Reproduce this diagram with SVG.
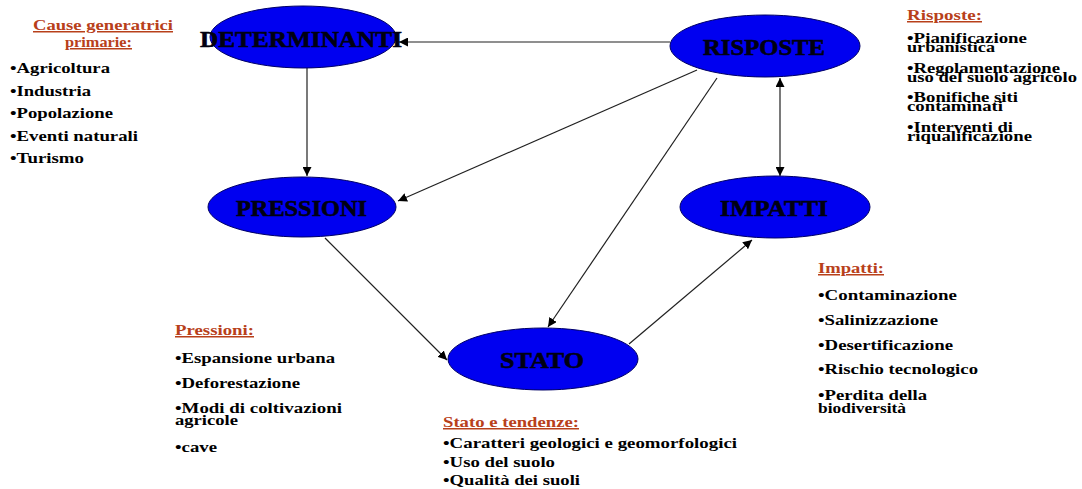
<svg xmlns="http://www.w3.org/2000/svg" width="1082" height="489" viewBox="0 0 1082 489">
  <style>
    .node ellipse { fill: #0000F0; stroke: #000066; stroke-width: 1; }
    .node text { font-family: 'Liberation Serif', 'DejaVu Serif', serif; font-weight: bold; font-size: 23px; fill: #000010; stroke: #000010; stroke-width: 0.6; }
    .edge { stroke: #202020; stroke-width: 1.2; fill: none; }
    .head { font-family: 'Liberation Serif', 'DejaVu Serif', serif; font-weight: bold; font-size: 15px; fill: #B8401A; text-decoration: underline; }
    .item { font-family: 'Liberation Serif', 'DejaVu Serif', serif; font-weight: bold; font-size: 15px; fill: #000; }
  </style>
  <defs>
    <marker id="arrow" viewBox="0 0 10 10" refX="10" refY="5" markerWidth="9" markerHeight="9" markerUnits="userSpaceOnUse" orient="auto-start-reverse">
      <path d="M0,0 L10,5 L0,10 z" fill="#000"/>
    </marker>
  </defs>

  <!-- connectors -->
  <g id="connectors">
    <line class="edge" x1="670" y1="42" x2="399" y2="42" marker-end="url(#arrow)"/>
    <line class="edge" x1="307" y1="68" x2="307" y2="176" marker-end="url(#arrow)"/>
    <line class="edge" x1="697" y1="70" x2="398" y2="201" marker-end="url(#arrow)"/>
    <line class="edge" x1="717" y1="78" x2="548" y2="327" marker-end="url(#arrow)"/>
    <line class="edge" x1="325" y1="238" x2="447" y2="360" marker-end="url(#arrow)"/>
    <line class="edge" x1="629" y1="344" x2="752" y2="240" marker-end="url(#arrow)"/>
    <line class="edge" x1="780" y1="78" x2="780" y2="176" marker-start="url(#arrow)" marker-end="url(#arrow)"/>
  </g>

  <!-- nodes -->
  <g id="determinanti" class="node">
    <ellipse cx="303" cy="37" rx="93" ry="31"/>
    <text x="200" y="47" textLength="202" lengthAdjust="spacingAndGlyphs">DETERMINANTI</text>
  </g>
  <g id="risposte" class="node">
    <ellipse cx="765" cy="46" rx="95" ry="31"/>
    <text x="703" y="55" textLength="122" lengthAdjust="spacingAndGlyphs">RISPOSTE</text>
  </g>
  <g id="pressioni" class="node">
    <ellipse cx="302" cy="207" rx="94" ry="30"/>
    <text x="236" y="216" textLength="131" lengthAdjust="spacingAndGlyphs">PRESSIONI</text>
  </g>
  <g id="impatti" class="node">
    <ellipse cx="775" cy="207" rx="95" ry="31"/>
    <text x="720" y="216" textLength="108" lengthAdjust="spacingAndGlyphs">IMPATTI</text>
  </g>
  <g id="stato" class="node">
    <ellipse cx="543" cy="359" rx="95" ry="31"/>
    <text x="500" y="368" textLength="84" lengthAdjust="spacingAndGlyphs">STATO</text>
  </g>

  <!-- description lists -->
  <g id="cause-list">
    <text class="head" x="33" y="30" textLength="140" lengthAdjust="spacingAndGlyphs">Cause generatrici</text>
    <text class="head" x="65" y="47" textLength="67" lengthAdjust="spacingAndGlyphs">primarie:</text>
    <text class="item" x="10" y="73" textLength="100" lengthAdjust="spacingAndGlyphs">•Agricoltura</text>
    <text class="item" x="10" y="96" textLength="81" lengthAdjust="spacingAndGlyphs">•Industria</text>
    <text class="item" x="10" y="118" textLength="103" lengthAdjust="spacingAndGlyphs">•Popolazione</text>
    <text class="item" x="10" y="141" textLength="128" lengthAdjust="spacingAndGlyphs">•Eventi naturali</text>
    <text class="item" x="10" y="163" textLength="74" lengthAdjust="spacingAndGlyphs">•Turismo</text>
  </g>

  <g id="risposte-list">
    <text class="head" x="907" y="20" textLength="75" lengthAdjust="spacingAndGlyphs">Risposte:</text>
    <text class="item" x="907" y="43" textLength="120" lengthAdjust="spacingAndGlyphs">•Pianificazione</text>
    <text class="item" x="907" y="52" textLength="88" lengthAdjust="spacingAndGlyphs">urbanistica</text>
    <text class="item" x="907" y="73" textLength="153" lengthAdjust="spacingAndGlyphs">•Regolamentazione</text>
    <text class="item" x="907" y="82" textLength="170" lengthAdjust="spacingAndGlyphs">uso del suolo agricolo</text>
    <text class="item" x="907" y="102" textLength="111" lengthAdjust="spacingAndGlyphs">•Bonifiche siti</text>
    <text class="item" x="907" y="111" textLength="96" lengthAdjust="spacingAndGlyphs">contaminati</text>
    <text class="item" x="907" y="132" textLength="106" lengthAdjust="spacingAndGlyphs">•Interventi di</text>
    <text class="item" x="907" y="141" textLength="125" lengthAdjust="spacingAndGlyphs">riqualificazione</text>
  </g>

  <g id="impatti-list">
    <text class="head" x="818" y="273" textLength="66" lengthAdjust="spacingAndGlyphs">Impatti:</text>
    <text class="item" x="818" y="300" textLength="139" lengthAdjust="spacingAndGlyphs">•Contaminazione</text>
    <text class="item" x="818" y="325" textLength="120" lengthAdjust="spacingAndGlyphs">•Salinizzazione</text>
    <text class="item" x="818" y="350" textLength="135" lengthAdjust="spacingAndGlyphs">•Desertificazione</text>
    <text class="item" x="818" y="374" textLength="160" lengthAdjust="spacingAndGlyphs">•Rischio tecnologico</text>
    <text class="item" x="818" y="400" textLength="109" lengthAdjust="spacingAndGlyphs">•Perdita della</text>
    <text class="item" x="818" y="413" textLength="88" lengthAdjust="spacingAndGlyphs">biodiversità</text>
  </g>

  <g id="pressioni-list">
    <text class="head" x="175" y="335" textLength="79" lengthAdjust="spacingAndGlyphs">Pressioni:</text>
    <text class="item" x="175" y="363" textLength="160" lengthAdjust="spacingAndGlyphs">•Espansione urbana</text>
    <text class="item" x="175" y="388" textLength="125" lengthAdjust="spacingAndGlyphs">•Deforestazione</text>
    <text class="item" x="175" y="413" textLength="167" lengthAdjust="spacingAndGlyphs">•Modi di coltivazioni</text>
    <text class="item" x="175" y="425" textLength="63" lengthAdjust="spacingAndGlyphs">agricole</text>
    <text class="item" x="175" y="452" textLength="42" lengthAdjust="spacingAndGlyphs">•cave</text>
  </g>

  <g id="stato-list">
    <text class="head" x="443" y="427" textLength="136" lengthAdjust="spacingAndGlyphs">Stato e tendenze:</text>
    <text class="item" x="443" y="448" textLength="294" lengthAdjust="spacingAndGlyphs">•Caratteri geologici e geomorfologici</text>
    <text class="item" x="443" y="467" textLength="112" lengthAdjust="spacingAndGlyphs">•Uso del suolo</text>
    <text class="item" x="443" y="485" textLength="137" lengthAdjust="spacingAndGlyphs">•Qualità dei suoli</text>
  </g>
</svg>
